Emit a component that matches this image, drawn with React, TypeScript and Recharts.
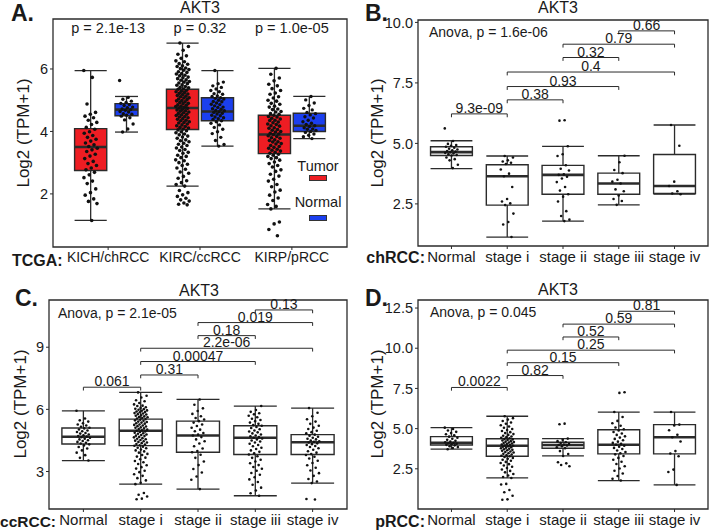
import React from 'react';
import {
  ComposedChart,
  Scatter,
  XAxis,
  YAxis,
  ReferenceArea,
  ReferenceLine,
  ReferenceDot,
} from 'recharts';

const FONT = '"Liberation Sans", Arial, Helvetica, sans-serif';
const INK = '#1a1a1a';
const LINE = '#2b2b2b';
const TUMOR_RED = '#EE1D23';
const NORMAL_BLUE = '#1B3FEF';

// ---------- Panel A: TCGA tumor vs normal ----------
const tcgaGroups = ['KICH/chRCC', 'KIRC/ccRCC', 'KIRP/pRCC'];
const tcgaPValues = ['p = 2.1e-13', 'p = 0.32', 'p = 1.0e-05'];
// [lower whisker, q1, median, q3, upper whisker]
const tumorStats = [
  [1.15, 2.75, 3.5, 4.09, 5.95],
  [2.25, 4.06, 4.75, 5.35, 6.83],
  [1.52, 3.29, 3.9, 4.52, 6.02],
];
const normalStats = [
  [3.98, 4.5, 4.7, 4.89, 5.12],
  [3.53, 4.34, 4.64, 5.08, 5.95],
  [3.77, 4.0, 4.18, 4.58, 5.12],
];

const kichTumor = [5.95, 5.73, 4.88, 4.61, 4.55, 4.49, 4.44, 4.36, 4.29, 4.22, 4.13, 4.07, 3.99, 3.94, 3.87, 3.81, 3.75, 3.69, 3.63, 3.57, 3.52, 3.46, 3.41, 3.36, 3.27, 3.21, 3.13, 3.04, 2.97, 2.91, 2.83, 2.77, 2.69, 2.61, 2.52, 2.41, 2.33, 2.16, 2.04, 1.96, 1.84, 1.76, 1.69, 1.15];
const kichNormal = [5.63, 5.09, 5.03, 4.97, 4.93, 4.9, 4.86, 4.83, 4.78, 4.76, 4.72, 4.7, 4.68, 4.64, 4.62, 4.57, 4.55, 4.52, 4.49, 4.44, 4.37, 4.24, 4.08, 3.98];
const kircTumor = [6.83, 6.72, 6.6, 6.47, 6.42, 6.34, 6.26, 6.23, 6.17, 6.15, 6.1, 6.08, 6.03, 6.01,
  5.98, 5.96, 5.91, 5.89, 5.85, 5.84, 5.8, 5.78, 5.74, 5.72, 5.69, 5.65, 5.64, 5.6, 5.58, 5.55, 5.53,
  5.49, 5.48, 5.44, 5.41, 5.4, 5.36, 5.35, 5.32, 5.29, 5.27, 5.25, 5.22, 5.2, 5.18, 5.15, 5.13, 5.11, 5.08, 5.07, 5.04, 5.02,
  4.99, 4.98, 4.95, 4.93, 4.9, 4.89, 4.85, 4.84, 4.81, 4.8, 4.77, 4.75, 4.74, 4.7, 4.69, 4.66, 4.65, 4.62, 4.6, 4.57, 4.55, 4.53, 4.51,
  4.48, 4.46, 4.44, 4.41, 4.39, 4.36, 4.34, 4.31, 4.29, 4.27, 4.24, 4.21, 4.18, 4.16, 4.13, 4.11, 4.08, 4.05, 4.02,
  3.99, 3.96, 3.92, 3.89, 3.85, 3.82, 3.78, 3.73, 3.7, 3.67, 3.62, 3.59, 3.55, 3.5,
  3.47, 3.42, 3.39, 3.33, 3.3, 3.24, 3.2, 3.16, 3.09, 3.06, 3.0,
  2.95, 2.91, 2.83, 2.79, 2.7, 2.66, 2.56, 2.5, 2.42, 2.36, 2.3, 2.25,
  2.11, 2.04, 1.97, 1.92, 1.86, 1.81, 1.77, 1.71, 1.67, 1.65];
const kircNormal = [5.95, 5.58, 5.53, 5.46, 5.41, 5.36, 5.31, 5.27, 5.21, 5.19, 5.14, 5.12, 5.08, 5.06, 5.04, 5.0, 4.96, 4.95, 4.91, 4.87, 4.86, 4.82, 4.78, 4.77, 4.73, 4.71, 4.67, 4.66, 4.63, 4.61, 4.58, 4.56, 4.52, 4.5, 4.46, 4.44, 4.41, 4.38, 4.34, 4.31, 4.26, 4.21, 4.13, 4.07, 3.99, 3.93, 3.81, 3.71, 3.58, 3.53];
const kirpTumor = [6.02, 5.83, 5.71, 5.62, 5.51, 5.46, 5.37, 5.31, 5.23, 5.19, 5.11, 5.07, 5.0, 4.97, 4.9, 4.87, 4.81, 4.78, 4.72, 4.7, 4.64, 4.62, 4.57, 4.55, 4.52, 4.48, 4.46, 4.42, 4.4, 4.36, 4.35, 4.3, 4.28, 4.24, 4.22, 4.18, 4.17, 4.12, 4.1, 4.06, 4.04, 4.0, 3.98, 3.94, 3.92, 3.9, 3.86, 3.84, 3.8, 3.78, 3.73, 3.71, 3.67, 3.66, 3.61, 3.6, 3.55, 3.52, 3.49, 3.46, 3.43, 3.4, 3.37, 3.33, 3.3, 3.27, 3.24, 3.2, 3.16, 3.13, 3.08, 3.02, 2.97, 2.91, 2.86, 2.77, 2.72, 2.63, 2.57, 2.47, 2.41, 2.3, 2.23, 2.12, 2.06, 1.96, 1.87, 1.79, 1.66, 1.6, 1.52, 1.1, 1.04, 0.86, 0.66];
const kirpNormal = [5.12, 5.01, 4.91, 4.83, 4.74, 4.69, 4.61, 4.57, 4.53, 4.47, 4.43, 4.36, 4.31, 4.26, 4.22, 4.18, 4.16, 4.12, 4.08, 4.07, 4.03, 4.0, 3.97, 3.92, 3.88, 3.83, 3.77];

// ---------- Panels B-D: by stage ----------
const stages = ['Normal', 'stage i', 'stage ii', 'stage iii', 'stage iv'];
const stagePairs = [[0, 1], [1, 2], [1, 3], [1, 4], [2, 3], [2, 4], [3, 4]];

const chStats = [
  [3.96, 4.5, 4.64, 4.86, 5.11],
  [1.13, 2.45, 3.64, 4.12, 4.48],
  [1.79, 2.9, 3.7, 4.09, 4.88],
  [2.46, 2.9, 3.34, 3.77, 4.49],
  [2.9, 2.93, 3.24, 4.54, 5.76],
];
const chPoints = [
  [5.62, 5.1, 4.98, 4.93, 4.9, 4.86, 4.82, 4.78, 4.75, 4.72, 4.68, 4.66, 4.64, 4.61, 4.58, 4.55, 4.52, 4.5, 4.42, 4.35, 4.3, 4.12, 3.98],
  [4.48, 4.42, 4.3, 4.25, 4.2, 4.15, 3.92, 3.75, 3.64, 3.2, 2.7, 2.6, 2.52, 2.45, 2.1, 1.75, 1.65, 1.13],
  [5.96, 5.94, 4.88, 4.55, 4.48, 4.1, 3.95, 3.88, 3.72, 3.7, 3.62, 3.55, 3.4, 3.2, 3.05, 2.9, 2.8, 2.6, 2.2, 2.0, 1.85, 1.79],
  [4.49, 4.22, 3.9, 3.77, 3.5, 3.42, 3.34, 3.1, 3.02, 2.85, 2.7, 2.62, 2.46],
  [5.76, 4.9, 3.42, 3.24, 3.02, 2.93, 2.9],
];
const chBracketY = [6.22, 6.8, 7.35, 7.95, 8.55, 9.1, 9.65];
const chBracketP = ['9.3e-09', '0.38', '0.93', '0.4', '0.32', '0.79', '0.66'];

const ccStats = [
  [3.53, 4.33, 4.68, 5.1, 5.93],
  [2.39, 4.25, 4.97, 5.53, 6.82],
  [2.15, 3.93, 4.74, 5.43, 6.48],
  [1.83, 3.82, 4.63, 5.21, 6.16],
  [2.44, 3.82, 4.41, 4.78, 6.06],
];
const ccPoints = [
  [5.93, 5.56, 5.47, 5.41, 5.33, 5.27, 5.22, 5.16, 5.11, 5.08, 5.03, 4.98, 4.94, 4.91, 4.86, 4.83, 4.79, 4.75, 4.71, 4.69, 4.66, 4.63, 4.58, 4.55, 4.51, 4.47, 4.43, 4.39, 4.35, 4.31, 4.26, 4.18, 4.11, 4.02, 3.91, 3.79, 3.66, 3.53],
  [6.82, 6.66, 6.57, 6.44, 6.39, 6.31, 6.24, 6.18, 6.16, 6.1, 6.07, 6.03, 6.01, 5.98, 5.95, 5.93, 5.9, 5.87, 5.86, 5.82, 5.8, 5.77, 5.75, 5.71, 5.69, 5.66, 5.63, 5.62, 5.58, 5.56, 5.53, 5.5, 5.47, 5.45, 5.41, 5.39, 5.36, 5.33, 5.31, 5.27, 5.25, 5.22, 5.19, 5.17, 5.13, 5.11, 5.08, 5.05, 5.02, 4.99, 4.97, 4.93, 4.91, 4.87, 4.85, 4.82, 4.79, 4.76, 4.73, 4.71, 4.67, 4.65, 4.61, 4.58, 4.56, 4.52, 4.49, 4.46, 4.43, 4.4, 4.37, 4.33, 4.3, 4.27, 4.24, 4.2, 4.15, 4.12, 4.06, 4.02, 3.97, 3.91, 3.85, 3.8, 3.72, 3.67, 3.59, 3.51, 3.45, 3.36, 3.3, 3.21, 3.14, 3.04, 2.97, 2.87, 2.79, 2.68, 2.57, 2.46, 2.39, 1.96, 1.88, 1.79, 1.69, 1.66],
  [6.48, 6.22, 6.05, 5.92, 5.78, 5.67, 5.58, 5.51, 5.43, 5.36, 5.27, 5.2, 5.11, 5.02, 4.94, 4.86, 4.78, 4.74, 4.66, 4.55, 4.46, 4.35, 4.22, 4.11, 3.99, 3.93, 3.81, 3.66, 3.48, 3.31, 3.12, 2.95, 2.76, 2.6, 2.15],
  [6.16, 5.97, 5.88, 5.81, 5.76, 5.69, 5.62, 5.55, 5.49, 5.43, 5.36, 5.3, 5.24, 5.21, 5.15, 5.1, 5.04, 4.98, 4.93, 4.89, 4.84, 4.79, 4.74, 4.7, 4.66, 4.63, 4.59, 4.55, 4.5, 4.45, 4.4, 4.34, 4.28, 4.22, 4.15, 4.09, 4.02, 3.95, 3.88, 3.82, 3.74, 3.66, 3.57, 3.48, 3.4, 3.31, 3.22, 3.13, 3.04, 2.93, 2.84, 2.72, 2.62, 2.49, 2.36, 2.22, 2.08, 1.95, 1.83],
  [6.06, 5.84, 5.67, 5.52, 5.41, 5.3, 5.21, 5.12, 5.05, 4.97, 4.9, 4.84, 4.78, 4.73, 4.68, 4.63, 4.58, 4.55, 4.5, 4.46, 4.43, 4.4, 4.36, 4.32, 4.28, 4.23, 4.18, 4.12, 4.05, 3.98, 3.91, 3.84, 3.8, 3.71, 3.63, 3.52, 3.41, 3.3, 3.18, 3.05, 2.92, 2.79, 2.64, 2.52, 2.44, 1.67, 1.65],
];
const ccBracketY = [7.07, 7.66, 8.31, 8.95, 9.56, 10.19, 10.8];
const ccBracketP = ['0.061', '0.31', '0.00047', '2.2e-06', '0.18', '0.019', '0.13'];

const pStats = [
  [3.72, 3.98, 4.12, 4.5, 5.06],
  [1.93, 3.28, 3.93, 4.37, 5.77],
  [3.3, 3.78, 3.98, 4.15, 4.38],
  [1.77, 3.43, 4.0, 4.93, 6.03],
  [1.5, 3.43, 4.46, 5.25, 6.03],
];
const pPoints = [
  [5.06, 4.98, 4.88, 4.8, 4.72, 4.65, 4.58, 4.5, 4.43, 4.37, 4.3, 4.24, 4.19, 4.15, 4.12, 4.09, 4.06, 4.03, 3.99, 3.96, 3.91, 3.85, 3.79, 3.72],
  [5.77, 5.65, 5.56, 5.47, 5.38, 5.3, 5.21, 5.13, 5.05, 4.98, 4.91, 4.85, 4.78, 4.72, 4.66, 4.61, 4.56, 4.51, 4.47, 4.43, 4.4, 4.36, 4.33, 4.29, 4.26, 4.22, 4.19, 4.16, 4.13, 4.1, 4.07, 4.04, 4.01, 3.98, 3.95, 3.93, 3.9, 3.87, 3.84, 3.81, 3.78, 3.75, 3.72, 3.68, 3.65, 3.62, 3.58, 3.55, 3.51, 3.47, 3.43, 3.39, 3.35, 3.31, 3.28, 3.23, 3.18, 3.12, 3.06, 3.0, 2.93, 2.86, 2.79, 2.71, 2.63, 2.55, 2.46, 2.37, 2.28, 2.18, 2.08, 1.99, 1.93, 1.56, 1.52, 1.18, 1.04, 0.82, 0.6, 0.58],
  [5.31, 5.27, 4.38, 4.3, 4.22, 4.15, 4.1, 4.05, 4.01, 3.98, 3.95, 3.9, 3.84, 3.78, 3.6, 3.42, 3.3, 2.91, 2.84, 2.74, 2.66],
  [7.26, 7.22, 6.03, 5.72, 5.48, 5.33, 5.18, 5.07, 4.96, 4.88, 4.79, 4.7, 4.61, 4.52, 4.44, 4.36, 4.28, 4.19, 4.11, 4.05, 4.0, 3.94, 3.87, 3.8, 3.73, 3.64, 3.55, 3.47, 3.4, 3.3, 3.18, 3.06, 2.94, 2.8, 2.66, 2.52, 2.38, 2.21, 2.05, 1.88, 1.77],
  [6.03, 5.25, 5.2, 4.9, 4.62, 4.46, 4.2, 3.6, 3.45, 3.28, 2.45, 2.3, 1.5],
];
const pBracketY = [7.56, 8.3, 9.1, 9.88, 10.7, 11.5, 12.3];
const pBracketP = ['0.0022', '0.82', '0.15', '0.25', '0.52', '0.59', '0.81'];

// deterministic horizontal spread for the jittered dots
const jitter = (i: number, g: number) => ((i * 0.618034 + g * 0.31) % 1) - 0.5;

function toPoints(groups: number[][], xs: number[], amp: number) {
  return groups.flatMap((vals, g) =>
    vals.map((y, i) => ({ x: xs[g] + jitter(i, g) * 2 * amp, y }))
  );
}

function seg(key: string, a: any, b: any, w = 1.3) {
  return (
    <ReferenceLine key={key} segment={[a, b]} stroke={LINE} strokeWidth={w} ifOverflow="visible" />
  );
}

function boxElements(id: string, x: number, half: number, s: number[], fill: string) {
  const [lo, q1, med, q3, hi] = s;
  return [
    seg(id + 'wl', { x, y: lo }, { x, y: q1 }),
    seg(id + 'wh', { x, y: q3 }, { x, y: hi }),
    seg(id + 'cl', { x: x - half, y: lo }, { x: x + half, y: lo }),
    seg(id + 'ch', { x: x - half, y: hi }, { x: x + half, y: hi }),
    <ReferenceArea
      key={id + 'box'}
      x1={x - half}
      x2={x + half}
      y1={q1}
      y2={q3}
      fill={fill}
      fillOpacity={1}
      stroke={LINE}
      strokeWidth={1.4}
      ifOverflow="visible"
    />,
    seg(id + 'md', { x: x - half, y: med }, { x: x + half, y: med }, 2.6),
  ];
}

function bracketElements(id: string, heights: number[], labels: string[], tip: number) {
  return stagePairs.flatMap(([a, b], k) => {
    const h = heights[k];
    return [
      <ReferenceLine
        key={id + 'b' + k}
        segment={[{ x: a + 1, y: h }, { x: b + 1, y: h }]}
        stroke={LINE}
        strokeWidth={1}
        ifOverflow="visible"
        label={{ value: labels[k], position: 'top', offset: 1, fill: INK, fontSize: 14, fontFamily: FONT }}
      />,
      seg(id + 'ta' + k, { x: a + 1, y: h }, { x: a + 1, y: h - tip }, 1),
      seg(id + 'tb' + k, { x: b + 1, y: h }, { x: b + 1, y: h - tip }, 1),
    ];
  });
}

const dot = (r: number) => (p: any) => <circle cx={p.cx} cy={p.cy} r={r} fill="#111" />;

type Frame = { x0: number; x1: number; y0: number; y1: number };

function Panel(props: {
  left: number;
  top: number;
  width: number;
  frame: Frame;
  xDomain: number[];
  xTicks: number[];
  xLabels: string[];
  xFont: number;
  yDomain: number[];
  yTicks: number[];
  yFormat?: (v: number) => string;
  children: any;
}) {
  const { left, top, width, frame, xDomain, xTicks, xLabels, yDomain, yTicks, yFormat } = props;
  const height = frame.y1 - top + 30;
  return (
    <div style={{ position: 'absolute', left, top, width, height }}>
      <ComposedChart
        width={width}
        height={height}
        margin={{ top: frame.y0 - top, right: left + width - frame.x1, bottom: 0, left: 0 }}
      >
        <XAxis
          type="number"
          dataKey="x"
          domain={xDomain}
          ticks={xTicks}
          interval={0}
          allowDataOverflow
          height={30}
          tickSize={3}
          tickFormatter={(v: number) => xLabels[v - 1]}
          axisLine={false}
          tickLine={{ stroke: LINE }}
          tick={{ fontSize: props.xFont, fill: INK, fontFamily: FONT }}
        />
        <YAxis
          type="number"
          dataKey="y"
          domain={yDomain}
          ticks={yTicks}
          allowDataOverflow
          width={frame.x0 - left}
          tickSize={3}
          tickFormatter={yFormat}
          axisLine={false}
          tickLine={{ stroke: LINE }}
          tick={{ fontSize: 14.5, fill: INK, fontFamily: FONT }}
        />
        {props.children}
        <ReferenceArea
          x1={xDomain[0]}
          x2={xDomain[1]}
          y1={yDomain[0]}
          y2={yDomain[1]}
          fill="none"
          stroke={LINE}
          strokeWidth={1.3}
          ifOverflow="visible"
        />
      </ComposedChart>
    </div>
  );
}

function Txt(props: {
  x: number;
  y: number;
  size?: number;
  bold?: boolean;
  anchor?: 'start' | 'middle' | 'end';
  rotate?: boolean;
  children: any;
}) {
  const { x, y, size = 14, bold = false, anchor = 'middle', rotate = false } = props;
  const tx = anchor === 'start' ? '0' : anchor === 'end' ? '-100%' : '-50%';
  return (
    <div
      style={{
        position: 'absolute',
        left: x,
        top: y,
        transform: `translate(${tx}, -50%)${rotate ? ' rotate(-90deg)' : ''}`,
        fontSize: size,
        fontWeight: bold ? 700 : 400,
        whiteSpace: 'nowrap',
        lineHeight: 1,
        color: INK,
        fontFamily: FONT,
      }}
    >
      {props.children}
    </div>
  );
}

const oneDecimal = (v: number) => v.toFixed(1);
const stageX = [1, 2, 3, 4, 5];

function StagePanel(props: {
  id: string;
  left: number;
  top: number;
  width: number;
  frame: Frame;
  yDomain: number[];
  yTicks: number[];
  yFormat?: (v: number) => string;
  stats: number[][];
  points: number[][];
  bracketY: number[];
  bracketP: string[];
  tip: number;
}) {
  const { id, stats, points } = props;
  return (
    <Panel
      left={props.left}
      top={props.top}
      width={props.width}
      frame={props.frame}
      xDomain={[0.4, 5.6]}
      xTicks={stageX}
      xLabels={stages}
      xFont={15}
      yDomain={props.yDomain}
      yTicks={props.yTicks}
      yFormat={props.yFormat}
    >
      {stats.flatMap((s, g) => boxElements(id + g, stageX[g], 0.375, s, '#ffffff'))}
      <Scatter
        key={id + 'pts'}
        data={toPoints(points, stageX, 0.12)}
        dataKey="y"
        isAnimationActive={false}
        shape={dot(1.3)}
      />
      {bracketElements(id, props.bracketY, props.bracketP, props.tip)}
    </Panel>
  );
}

export default function App() {
  const tumorX = [0.81, 1.81, 2.81];
  const normalX = [1.2, 2.19, 3.19];
  const tumorPts = toPoints([kichTumor, kircTumor, kirpTumor], tumorX, 0.075);
  const normalPts = toPoints([kichNormal, kircNormal, kirpNormal], normalX, 0.075);

  return (
    <div
      style={{
        position: 'absolute',
        left: 0,
        top: 0,
        width: 709,
        height: 531,
        background: '#fff',
        fontFamily: FONT,
        overflow: 'hidden',
      }}
    >
      {/* A */}
      <Panel
        left={0}
        top={0}
        width={354}
        frame={{ x0: 53, x1: 347, y0: 19, y1: 247 }}
        xDomain={[0.4, 3.6]}
        xTicks={[1, 2, 3]}
        xLabels={tcgaGroups}
        xFont={14}
        yDomain={[0.3, 7.6]}
        yTicks={[2, 4, 6]}
      >
        {tumorStats.flatMap((s, g) => boxElements('t' + g, tumorX[g], 0.175, s, TUMOR_RED))}
        {normalStats.flatMap((s, g) =>
          boxElements('n' + g, normalX[g], g === 0 ? 0.125 : 0.175, s, NORMAL_BLUE)
        )}
        <Scatter key="tpts" data={tumorPts} dataKey="y" isAnimationActive={false} shape={dot(1.8)} />
        <Scatter key="npts" data={normalPts} dataKey="y" isAnimationActive={false} shape={dot(1.7)} />
        {tcgaPValues.map((p, g) => (
          <ReferenceDot
            key={'p' + g}
            x={g + 1}
            y={7.31}
            r={0}
            fill="none"
            stroke="none"
            ifOverflow="visible"
            label={{ value: p, position: 'center', fill: INK, fontSize: 14.5, fontFamily: FONT }}
          />
        ))}
      </Panel>

      <StagePanel
        id="B"
        left={354}
        top={0}
        width={355}
        frame={{ x0: 418, x1: 708, y0: 20, y1: 246 }}
        yDomain={[0.76, 10.1]}
        yTicks={[2.5, 5, 7.5, 10]}
        yFormat={oneDecimal}
        stats={chStats}
        points={chPoints}
        bracketY={chBracketY}
        bracketP={chBracketP}
        tip={0.14}
      />
      <StagePanel
        id="C"
        left={0}
        top={265}
        width={354}
        frame={{ x0: 49, x1: 347, y0: 300, y1: 509 }}
        yDomain={[1.19, 11.28]}
        yTicks={[3, 6, 9]}
        stats={ccStats}
        points={ccPoints}
        bracketY={ccBracketY}
        bracketP={ccBracketP}
        tip={0.16}
      />
      <StagePanel
        id="D"
        left={354}
        top={265}
        width={355}
        frame={{ x0: 418, x1: 708, y0: 300, y1: 509 }}
        yDomain={[0, 13.0]}
        yTicks={[2.5, 5, 7.5, 10, 12.5]}
        yFormat={oneDecimal}
        stats={pStats}
        points={pPoints}
        bracketY={pBracketY}
        bracketP={pBracketP}
        tip={0.2}
      />

      {/* legend of panel A */}
      <Txt x={318} y={166} size={14.5}>Tumor</Txt>
      <div style={{ position: 'absolute', left: 309, top: 175, width: 18, height: 6, background: TUMOR_RED, border: '1px solid #333', boxSizing: 'border-box' }} />
      <Txt x={318} y={202} size={14.5}>Normal</Txt>
      <div style={{ position: 'absolute', left: 309, top: 215, width: 18, height: 6, background: NORMAL_BLUE, border: '1px solid #333', boxSizing: 'border-box' }} />

      {/* titles and labels */}
      <Txt x={200} y={8} size={16}>AKT3</Txt>
      <Txt x={558} y={8} size={16}>AKT3</Txt>
      <Txt x={199} y={291} size={16}>AKT3</Txt>
      <Txt x={558} y={290} size={16}>AKT3</Txt>

      <Txt x={11} y={13} size={23} bold anchor="start">A.</Txt>
      <Txt x={365} y={13} size={23} bold anchor="start">B.</Txt>
      <Txt x={15} y={298} size={23} bold anchor="start">C.</Txt>
      <Txt x={365} y={298} size={23} bold anchor="start">D.</Txt>

      <Txt x={23} y={133} size={17} rotate>Log2 (TPM+1)</Txt>
      <Txt x={377} y={133} size={17} rotate>Log2 (TPM+1)</Txt>
      <Txt x={20} y={404} size={17} rotate>Log2 (TPM+1)</Txt>
      <Txt x={377} y={404} size={17} rotate>Log2 (TPM+1)</Txt>

      <Txt x={12} y={261} size={16} bold anchor="start">TCGA:</Txt>
      <Txt x={425} y={258} size={16} bold anchor="end">chRCC:</Txt>
      <Txt x={56} y={522} size={15.5} bold anchor="end">ccRCC:</Txt>
      <Txt x={425} y={522} size={16} bold anchor="end">pRCC:</Txt>

      <Txt x={429} y={32} size={14} anchor="start">Anova, p = 1.6e-06</Txt>
      <Txt x={58} y={313} size={14} anchor="start">Anova, p = 2.1e-05</Txt>
      <Txt x={430} y={312} size={14} anchor="start">Anova, p = 0.045</Txt>
    </div>
  );
}
